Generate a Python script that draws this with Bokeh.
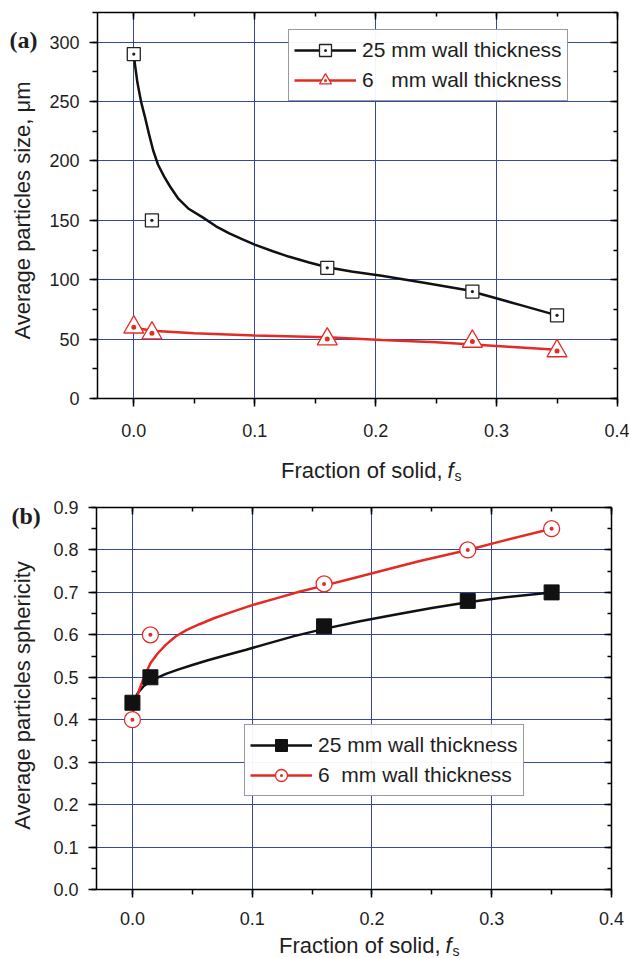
import math
from bokeh.plotting import figure
from bokeh.models import (LinearAxis, SingleIntervalTicker, Range1d, Legend, LegendItem,
                          Label, PrintfTickFormatter, CustomJSTickFormatter, Plot)
from bokeh.layouts import column, row
from bokeh.embed import file_html
from bokeh.resources import INLINE

# ---------------- data ----------------
FS = [0.0, 0.015, 0.16, 0.28, 0.35]

SIZE_25 = [290, 150, 110, 90, 70]
SIZE_6 = [60, 55, 50, 48, 40]

SPH_25 = [0.44, 0.50, 0.62, 0.68, 0.70]
SPH_6 = [0.40, 0.60, 0.72, 0.80, 0.85]

# fitted curves
A_FIT_X_25 = [0.0, 0.001, 0.003, 0.006, 0.009, 0.0125, 0.016, 0.02, 0.025, 0.03, 0.037,
              0.045, 0.057, 0.068, 0.079, 0.09, 0.10, 0.115, 0.128, 0.145, 0.16, 0.18,
              0.205, 0.24, 0.275, 0.296, 0.32, 0.35]
A_FIT_Y_25 = [290, 281, 266, 250, 238, 223, 209, 197, 187, 178.5, 168,
              160, 152.5, 145, 139, 134, 129.5, 124, 119.5, 114.5, 110.5, 107,
              103.4, 97.5, 91.3, 85.4, 78.6, 70]
A_FIT_X_6 = [0.0, 0.007, 0.015, 0.05, 0.10, 0.16, 0.205, 0.25, 0.28, 0.31, 0.35]
A_FIT_Y_6 = [60, 58.5, 57, 55, 53, 51.5, 49.3, 47.3, 45.4, 43.5, 41]

B_FIT_X_25 = [0.0, 0.002, 0.005, 0.009, 0.014, 0.02, 0.028, 0.038, 0.05, 0.063, 0.078,
              0.095, 0.115, 0.135, 0.16, 0.19, 0.22, 0.25, 0.28, 0.31, 0.35]
B_FIT_Y_25 = [0.435, 0.450, 0.465, 0.478, 0.489, 0.498, 0.508, 0.518, 0.529, 0.540, 0.552,
              0.565, 0.581, 0.597, 0.614, 0.632, 0.648, 0.663, 0.677, 0.688, 0.70]
B_FIT_X_6 = [0.0, 0.001, 0.003, 0.006, 0.01, 0.015, 0.021, 0.028, 0.036, 0.045, 0.056,
             0.068, 0.082, 0.10, 0.12, 0.14, 0.16, 0.185, 0.21, 0.24, 0.28, 0.31, 0.35]
B_FIT_Y_6 = [0.40, 0.425, 0.445, 0.473, 0.502, 0.533, 0.556, 0.577, 0.596, 0.611, 0.625,
             0.639, 0.653, 0.670, 0.686, 0.702, 0.716, 0.734, 0.752, 0.774, 0.800, 0.822, 0.850]

LEG_25 = "25 mm wall thickness"
LEG_6_A = "6   mm wall thickness"
LEG_6_B = "6  mm wall thickness"
XTITLE = "Fraction of solid,"
YTITLE_A = "Average particles size, \u03bcm"
YTITLE_B = "Average particles sphericity"

# ---------------- style ----------------
RED = "#e32b24"
BLK = "#111111"
GRID = "#3646a3"
TXT = "#1e1e1e"
FONT = "Liberation Sans"
SERIF = "Liberation Serif"
LW = 46          # width of the left text strip
TOTAL_W = 628
EMPTY = CustomJSTickFormatter(code="return ''")
HAS_FRAME_ALIGN = "frame_align" in Plot.properties()

# vertical page geometry (pixels from the top of the page)
A_TOP, A_BORDER_T, A_FRAME_H, A_BORDER_B = 0, 12, 386, 52
A_H = A_BORDER_T + A_FRAME_H + A_BORDER_B
BA_H = 40
B_TOP = A_TOP + A_H + BA_H
B_BORDER_T, B_FRAME_H, B_BORDER_B = 17, 382, 43
B_H = B_BORDER_T + B_FRAME_H + B_BORDER_B
BB_TOP = B_TOP + B_H
BB_H = 25


def style(p, xt, yt, fmt_y, xstand):
    p.outline_line_color = None
    p.background_fill_color = "white"
    p.border_fill_color = "white"
    xa = p.xaxis[0]
    ya = p.yaxis[0]
    xa.ticker = xt
    ya.ticker = yt
    p.xgrid.ticker = xt
    p.ygrid.ticker = yt
    xa.formatter = PrintfTickFormatter(format="%.1f")
    ya.formatter = fmt_y
    for ax in (xa, ya):
        ax.axis_line_width = 1.5
        ax.axis_line_color = "black"
        ax.major_tick_line_width = 1.5
        ax.minor_tick_line_width = 1.5
        ax.major_tick_line_color = "black"
        ax.minor_tick_line_color = "black"
        ax.major_tick_out = 8
        ax.major_tick_in = 0
        ax.minor_tick_out = 5
        ax.minor_tick_in = 0
        ax.major_label_text_font = FONT
        ax.major_label_text_font_size = "18px"
        ax.major_label_text_color = TXT
    xa.major_label_standoff = xstand
    ya.major_label_standoff = 10
    for g in (p.xgrid[0], p.ygrid[0]):
        g.grid_line_color = GRID
        g.grid_line_width = 1
    for loc, tk in (("above", xt), ("right", yt)):
        ax = LinearAxis(ticker=tk, formatter=EMPTY)
        ax.axis_line_width = 1.5
        ax.major_tick_line_width = 1.5
        ax.minor_tick_line_width = 1.5
        ax.major_tick_in = 7
        ax.major_tick_out = 0
        ax.minor_tick_in = 4
        ax.minor_tick_out = 0
        ax.major_label_text_font_size = "0px"
        ax.major_label_standoff = 0
        p.add_layout(ax, loc)


def strip(w, page_top, h, border_t=0, border_b=0):
    """A blank figure whose data coordinates are page pixels."""
    kw = {}
    if HAS_FRAME_ALIGN:
        kw["frame_align"] = False
        border_t = border_b = 0
    s = figure(width=w, height=h, x_range=Range1d(0, w),
               y_range=Range1d(page_top + h - border_b, page_top + border_t),
               min_border_left=0, min_border_right=0,
               min_border_top=border_t, min_border_bottom=border_b,
               x_axis_location=None, y_axis_location=None,
               output_backend="svg", toolbar_location=None, **kw)
    s.outline_line_color = None
    s.grid.visible = False
    return s


def left_strip(page_top, h, bt, bb, tag, tag_x, tag_y, title, tx, ty):
    s = strip(LW, page_top, h, bt, bb)
    s.add_layout(Label(x=tag_x, y=tag_y, text=tag, text_align="left", text_baseline="middle",
                       text_font=SERIF, text_font_size="24px", text_font_style="bold",
                       text_color=TXT))
    s.add_layout(Label(x=tx, y=ty, text=title, angle=math.pi / 2, text_align="center",
                       text_baseline="middle", text_font=FONT, text_font_size="22px",
                       text_color=TXT))
    return s


def bottom_strip(page_top, h, xr, ym):
    s = strip(TOTAL_W, page_top, h)
    s.add_layout(Label(x=xr, y=ym, text=XTITLE, text_align="right", text_baseline="middle",
                       text_font=FONT, text_font_size="22px", text_color=TXT))
    s.add_layout(Label(x=xr + 5, y=ym, text="f", text_align="left", text_baseline="middle",
                       text_font=FONT, text_font_size="22px", text_font_style="italic",
                       text_color=TXT))
    s.add_layout(Label(x=xr + 12, y=ym + 5, text="s", text_align="left",
                       text_baseline="middle", text_font=FONT, text_font_size="14px",
                       text_color=TXT))
    return s


def legend(items, loc):
    return Legend(items=items, location=loc, glyph_width=62, glyph_height=30,
                  label_height=25, spacing=0, padding=5, label_standoff=6, margin=0,
                  border_line_color="#333333", border_line_width=1,
                  label_text_font=FONT, label_text_font_size="21px", label_text_color=TXT)


# ---------------- panel (a) ----------------
pa = figure(frame_width=520, frame_height=A_FRAME_H, x_range=Range1d(-0.03, 0.4),
            y_range=Range1d(0, 325), output_backend="svg", toolbar_location=None,
            min_border_left=50, min_border_right=TOTAL_W - LW - 50 - 520,
            min_border_top=A_BORDER_T, min_border_bottom=A_BORDER_B)
style(pa, SingleIntervalTicker(interval=0.1, num_minor_ticks=2),
      SingleIntervalTicker(interval=50, num_minor_ticks=2),
      PrintfTickFormatter(format="%d"), 17)

la1 = pa.line(A_FIT_X_25, A_FIT_Y_25, line_color=BLK, line_width=2.5)
la2 = pa.line(A_FIT_X_6, A_FIT_Y_6, line_color=RED, line_width=2.5)
sa1 = pa.scatter(FS, SIZE_25, marker="square_dot", size=13, line_color="#222222",
                 fill_color="white", line_width=1.3)
sa2 = pa.scatter(FS, SIZE_6, marker="triangle_dot", size=20, line_color=RED,
                 fill_color="white", line_width=1.3)
pa.add_layout(legend([LegendItem(label=LEG_25, renderers=[la1, sa1]),
                      LegendItem(label=LEG_6_A, renderers=[la2, sa2])], (191, 297)))

La = left_strip(A_TOP, A_H, A_BORDER_T, A_BORDER_B, "(a)", 9, 39, YTITLE_A, 21.5, 210)
Ba = bottom_strip(A_TOP + A_H, BA_H, 442, 470)

# ---------------- panel (b) ----------------
pb = figure(frame_width=515, frame_height=B_FRAME_H, x_range=Range1d(-0.03, 0.4),
            y_range=Range1d(0, 0.9), output_backend="svg", toolbar_location=None,
            min_border_left=50, min_border_right=TOTAL_W - LW - 50 - 515,
            min_border_top=B_BORDER_T, min_border_bottom=B_BORDER_B)
style(pb, SingleIntervalTicker(interval=0.1, num_minor_ticks=2),
      SingleIntervalTicker(interval=0.1, num_minor_ticks=2),
      PrintfTickFormatter(format="%.1f"), 14)

lb1 = pb.line(B_FIT_X_25, B_FIT_Y_25, line_color=BLK, line_width=2.5)
lb2 = pb.line(B_FIT_X_6, B_FIT_Y_6, line_color=RED, line_width=2.5)
sb1 = pb.scatter(FS, SPH_25, marker="square", size=15, line_color=BLK,
                 fill_color=BLK, line_width=1)
sb2 = pb.scatter(FS, SPH_6, marker="circle_dot", size=16, line_color=RED,
                 fill_color="white", line_width=1.3)
pb.add_layout(legend([LegendItem(label=LEG_25, renderers=[lb1, sb1]),
                      LegendItem(label=LEG_6_B, renderers=[lb2, sb2])], (148, 93)))

Lb = left_strip(B_TOP, B_H, B_BORDER_T, B_BORDER_B, "(b)", 11, 515, YTITLE_B, 22, 695)
Bb = bottom_strip(BB_TOP, BB_H, 440, 945)

layout = column(row(La, pa), Ba, row(Lb, pb), Bb)
open("out.html", "w").write(file_html(layout, INLINE))
